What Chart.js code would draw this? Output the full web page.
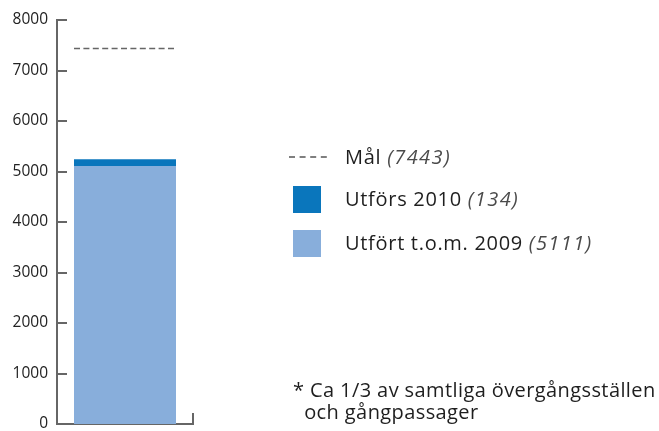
<!DOCTYPE html>
<html>
<head>
<meta charset="utf-8">
<script src="https://cdn.jsdelivr.net/npm/chart.js@4"></script>
<style>
  body { margin: 0; background: #fff; font-family: "Open Sans", sans-serif; }
  #wrap { position: relative; width: 659px; height: 431px; }
  canvas { position: absolute; left: 0; top: 0; }
  .leg { position: absolute; font-size: 20px; color: #1e1e1e; white-space: nowrap; line-height: 24px; letter-spacing: 0.7px; }
  .leg i { color: #4a4a4a; letter-spacing: 1.4px; }
  .sw { position: absolute; width: 28px; height: 27px; }
  .dash { position: absolute; }
  #note { position: absolute; left: 293px; top: 379px; font-size: 20px; color: #1e1e1e; line-height: 22px; white-space: nowrap; letter-spacing: 0.4px; }
</style>
</head>
<body>
<div id="wrap">
  <canvas id="chart" width="659" height="431"></canvas>
  <svg class="dash" style="left:289px; top:152px;" width="40" height="10">
    <line x1="0" y1="5" x2="40" y2="5" stroke="#555" stroke-width="1.5" stroke-dasharray="6 4.6"></line>
  </svg>
  <div class="leg" style="left:345px; top:145px;">Mål <i>(7443)</i></div>
  <div class="sw" style="left:293px; top:186px; background:#0A76BC;"></div>
  <div class="leg" style="left:345px; top:187px;">Utförs 2010 <i>(134)</i></div>
  <div class="sw" style="left:293px; top:230px; background:#88AEDB;"></div>
  <div class="leg" style="left:345px; top:231px;">Utfört t.o.m. 2009 <i>(5111)</i></div>
  <div id="note">* Ca 1/3 av samtliga övergångsställen<br>&nbsp;&nbsp;och gångpassager</div>
</div>
<script>
document.addEventListener('DOMContentLoaded', function() {
   const categories = [''];
   const doneTo2009 = [5111];
   const done2010 = [134];
   const target = 7443;
   const yTicks = [0, 1000, 2000, 3000, 4000, 5000, 6000, 7000, 8000];

   const axisColor = '#666';

   // Inward tick marks, right end tick and the target line
   const extras = {
       id: 'extras',
       afterDraw(chart) {
           const ctx = chart.ctx;
           const y = chart.scales.y;
           const area = chart.chartArea;
           ctx.save();
           ctx.strokeStyle = axisColor;
           ctx.lineWidth = 2;
           yTicks.forEach(v => {
               if (v === 0) return;
               const py = Math.round(y.getPixelForValue(v));
               ctx.beginPath();
               ctx.moveTo(area.left, py);
               ctx.lineTo(area.left + 10, py);
               ctx.stroke();
           });
           ctx.beginPath();
           ctx.moveTo(area.right, area.bottom);
           ctx.lineTo(area.right, area.bottom - 11);
           ctx.stroke();

           // dashed target line across the bar
           const bar = chart.getDatasetMeta(0).data[0];
           const half = bar.width / 2;
           const ty = Math.round(y.getPixelForValue(target)) + 0.5;
           ctx.strokeStyle = '#666';
           ctx.lineWidth = 1.5;
           ctx.setLineDash([6, 3.4]);
           ctx.beginPath();
           ctx.moveTo(bar.x - half, ty);
           ctx.lineTo(bar.x + half, ty);
           ctx.stroke();
           ctx.restore();
       }
   };

   new Chart(document.getElementById('chart'), {
       type: 'bar',
       data: {
           labels: categories,
           datasets: [{
               label: 'Utfört t.o.m. 2009',
               data: doneTo2009,
               backgroundColor: '#88AEDB',
               barPercentage: 0.75,
               categoryPercentage: 1
           }, {
               label: 'Utförs 2010',
               data: done2010,
               backgroundColor: '#0A76BC',
               barPercentage: 0.75,
               categoryPercentage: 1
           }]
       },
       options: {
           responsive: false,
           animation: false,
           layout: { padding: { top: 20, right: 466, bottom: 7, left: 0 } },
           plugins: { legend: { display: false }, tooltip: { enabled: false } },
           scales: {
               x: {
                   stacked: true,
                   afterFit(scale) { scale.height = 0; },
                   grid: { display: false, drawTicks: false },
                   border: { color: axisColor, width: 2 },
                   ticks: { display: false }
               },
               y: {
                   stacked: true,
                   min: 0,
                   max: 8000,
                   afterBuildTicks(scale) {
                       scale.ticks = yTicks.map(v => ({ value: v }));
                   },
                   afterFit(scale) {
                       scale.width = 57;
                       scale.paddingTop = 0;
                       scale.paddingBottom = 0;
                   },
                   grid: { display: false, drawTicks: false },
                   border: { color: axisColor, width: 2 },
                   ticks: {
                       padding: 9,
                       color: '#222',
                       font: { family: 'Open Sans', size: 15.5 },
                       callback: v => String(v)
                   }
               }
           }
       },
       plugins: [extras]
   });
});
</script>
</body>
</html>
